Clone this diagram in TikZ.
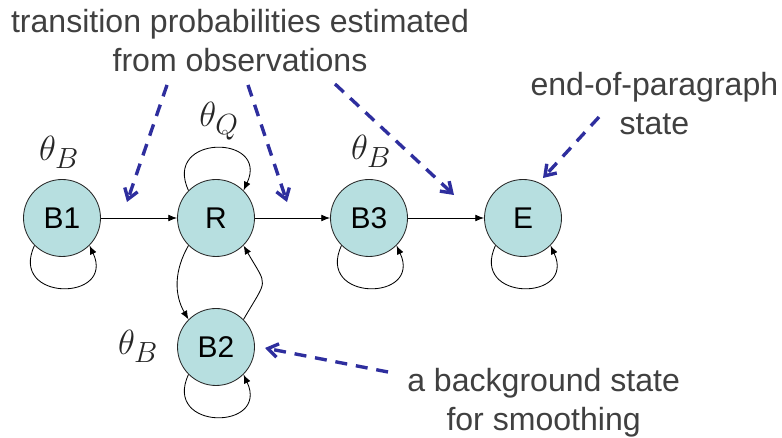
\documentclass[tikz,border=0pt]{standalone}
\usepackage{fontspec}
\setmainfont{Liberation Sans}
\usepackage{tikz}
\usetikzlibrary{arrows.meta}
\definecolor{statefill}{HTML}{B7DFE0}
\definecolor{notegray}{HTML}{404040}
\definecolor{noteblue}{HTML}{2E2E9E}

\begin{document}
\begin{tikzpicture}[>={Latex[length=2.2mm,width=1.7mm]}, line width=0.6pt,
  hmmstate/.style={circle, draw=black!85, fill=statefill, minimum size=1.925cm,
    inner sep=0pt, font=\fontsize{21.3}{25}\selectfont},
  note/.style={align=center, text=notegray, font=\fontsize{22.8}{27.7}\selectfont},
  param/.style={text=black!85, font=\fontsize{27.5}{32}\selectfont},
  pointer/.style={-{Straight Barb[length=2.5mm,width=3.4mm]}, noteblue,
    line width=2.4pt, dash pattern=on 3mm off 2.2mm},
  loopdown/.style={out=-115, in=-65, looseness=2.9},
  loopup/.style={out=115, in=65, looseness=2.9}]
  \useasboundingbox (0,0) rectangle (19.55,10.95);

  % Zustaende
  \node[hmmstate] (B1) at (1.55,5.5) {B1};
  \node[hmmstate] (R) at (5.4,5.5) {R};
  \node[hmmstate] (B3) at (9.225,5.5) {B3};
  \node[hmmstate] (E) at (13.075,5.5) {E};
  \node[hmmstate] (B2) at (5.4,2.275) {B2};

  % Uebergaenge
  \draw[->] (B1) -- (R);
  \draw[->] (R) -- (B3);
  \draw[->] (B3) -- (E);
  \draw[->] (R.-135) to[out=-120, in=120] (B2.135);
  \draw[->] (B2.45) to[out=60, in=-60, looseness=1.7] (R.-45);
  \draw[->] (R.135) to[loopup] (R.45);
  \draw[->] (B1.-135) to[loopdown] (B1.-45);
  \draw[->] (B3.-135) to[loopdown] (B3.-45);
  \draw[->] (E.-135) to[loopdown] (E.-45);
  \draw[->] (B2.-135) to[loopdown] (B2.-45);

  % Parameter
  \node[param] (thB1) at (1.475,7.15) {$\theta_B$};
  \node[param] (thQ) at (5.475,7.925) {$\theta_Q$};
  \node[param] (thB3) at (9.275,7.175) {$\theta_B$};
  \node[param] (thB2) at (3.45,2.3) {$\theta_B$};

  % Anmerkungen
  \node[note] (obs) at (6.0,9.925) {transition probabilities estimated\\from observations};
  \node[note] (eop) at (16.36,8.35) {end-of-paragraph\\state};
  \node[note] (bg) at (13.59,0.875) {a background state\\for smoothing};

  \coordinate (s1) at (4.175,8.825);
  \coordinate (t1) at (3.175,5.9);
  \coordinate (s2) at (6.2,8.825);
  \coordinate (t2) at (7.175,5.9);
  \coordinate (s3) at (8.375,8.85);
  \coordinate (t3) at (11.35,6.075);
  \coordinate (s4) at (14.975,8.025);
  \coordinate (t4) at (13.575,6.5);
  \coordinate (s5) at (9.7,1.65);
  \coordinate (t5) at (6.625,2.25);

  \draw[pointer] (s1) -- (t1);
  \draw[pointer] (s2) -- (t2);
  \draw[pointer] (s3) -- (t3);
  \draw[pointer] (s4) -- (t4);
  \draw[pointer] (s5) -- (t5);
\end{tikzpicture}
\end{document}
